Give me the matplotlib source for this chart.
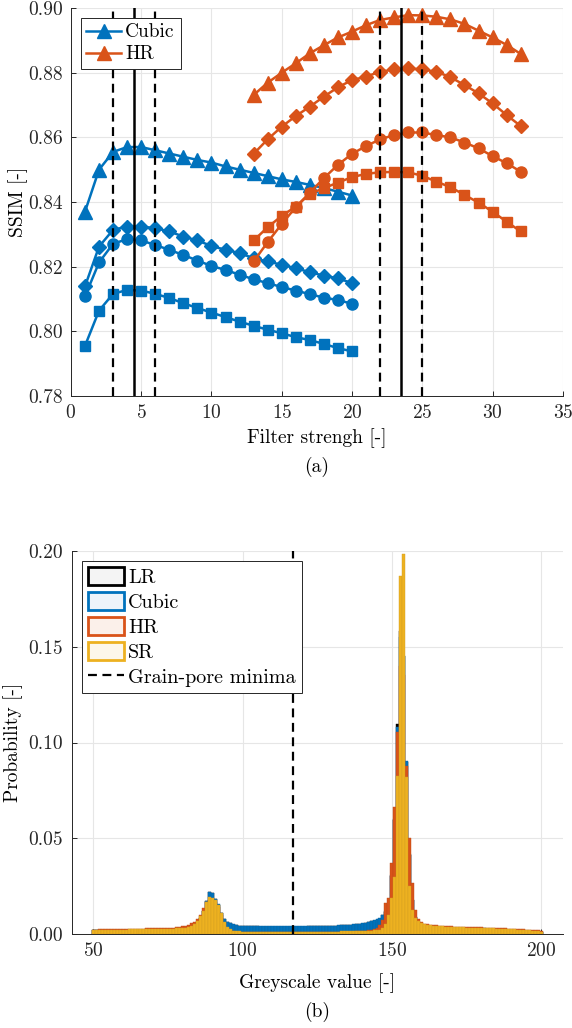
import numpy as np
import matplotlib
matplotlib.use('Agg')
import matplotlib.pyplot as plt
from matplotlib.patches import Patch
from matplotlib.lines import Line2D

plt.rcParams['font.family'] = 'cmr10'
plt.rcParams['mathtext.fontset'] = 'cm'
plt.rcParams['axes.formatter.use_mathtext'] = True
plt.rcParams['font.size'] = 14

BLUE = '#0072BD'
ORANGE = '#D95319'
YELLOW = '#EDB120'

# ---- (a) SSIM vs filter strength ----
cubic_x = np.arange(1, 21)
hr_x = np.arange(13, 33)

cubic_tri = [0.837, 0.850, 0.8555, 0.857, 0.857, 0.856, 0.855, 0.854, 0.853, 0.8522,
             0.851, 0.850, 0.849, 0.848, 0.847, 0.8462, 0.8453, 0.8443, 0.8432, 0.842]
cubic_dia = [0.8139, 0.8262, 0.8314, 0.8324, 0.8324, 0.8319, 0.8309, 0.8293, 0.8281, 0.8264,
             0.8252, 0.8242, 0.8226, 0.8216, 0.8206, 0.8195, 0.8183, 0.8172, 0.8164, 0.8149]
cubic_cir = [0.8108, 0.8213, 0.8271, 0.8285, 0.8281, 0.8267, 0.8252, 0.8236, 0.8219, 0.8202,
             0.8190, 0.8175, 0.8161, 0.8149, 0.8137, 0.8126, 0.8115, 0.8104, 0.8097, 0.8085]
cubic_sq = [0.7955, 0.8064, 0.8116, 0.8128, 0.8126, 0.8116, 0.8103, 0.8087, 0.8072, 0.8058,
            0.8044, 0.8030, 0.8017, 0.8005, 0.7994, 0.7982, 0.7973, 0.7961, 0.7948, 0.7938]

hr_tri = [0.8731, 0.8769, 0.8800, 0.8829, 0.8860, 0.8885, 0.8909, 0.8927, 0.8947, 0.8963,
          0.8971, 0.8978, 0.8977, 0.8973, 0.8965, 0.8951, 0.8930, 0.8909, 0.8886, 0.8858]
hr_dia = [0.8549, 0.8594, 0.8633, 0.8666, 0.8695, 0.8726, 0.8755, 0.8777, 0.8788, 0.8803,
          0.8810, 0.8813, 0.8810, 0.8803, 0.8786, 0.8762, 0.8736, 0.8705, 0.8669, 0.8635]
hr_cir = [0.8216, 0.8276, 0.8332, 0.8384, 0.8429, 0.8474, 0.8515, 0.8549, 0.8573, 0.8594,
          0.8607, 0.8615, 0.8615, 0.8607, 0.8600, 0.8584, 0.8566, 0.8542, 0.8520, 0.8494]
hr_sq = [0.8281, 0.8322, 0.8357, 0.8386, 0.8425, 0.8443, 0.8460, 0.8477, 0.8487, 0.8492,
         0.8493, 0.8492, 0.8481, 0.8463, 0.8446, 0.8422, 0.8398, 0.8370, 0.8339, 0.8309]

cubic_lines = [3.0, 4.5, 6.0]
hr_lines = [22.0, 23.5, 25.0]

# ---- (b) greyscale histograms, bins 50..200 ----
grey = np.arange(50, 201)
p_lr = [
    0.0019, 0.0020, 0.0020, 0.0021, 0.0021, 0.0021, 0.0021, 0.0022, 0.0022, 0.0022,
    0.0022, 0.0022, 0.0023, 0.0023, 0.0023, 0.0023, 0.0023, 0.0023, 0.0024, 0.0024,
    0.0024, 0.0024, 0.0024, 0.0025, 0.0025, 0.0026, 0.0026, 0.0027, 0.0028, 0.0029,
    0.0030, 0.0033, 0.0036, 0.0042, 0.0050, 0.0062, 0.0085, 0.0120, 0.0174, 0.0220,
    0.0212, 0.0184, 0.0154, 0.0111, 0.0077, 0.0063, 0.0056, 0.0049, 0.0045, 0.0043,
    0.0042, 0.0041, 0.0041, 0.0040, 0.0040, 0.0040, 0.0039, 0.0039, 0.0039, 0.0039,
    0.0039, 0.0039, 0.0039, 0.0039, 0.0039, 0.0039, 0.0039, 0.0039, 0.0039, 0.0039,
    0.0039, 0.0039, 0.0040, 0.0040, 0.0040, 0.0041, 0.0041, 0.0041, 0.0042, 0.0042,
    0.0043, 0.0043, 0.0044, 0.0045, 0.0045, 0.0046, 0.0047, 0.0049, 0.0051, 0.0053,
    0.0055, 0.0058, 0.0062, 0.0066, 0.0070, 0.0075, 0.0081, 0.0097, 0.0117, 0.0158,
    0.0305, 0.0595, 0.1095, 0.1580, 0.1450, 0.0900, 0.0415, 0.0178, 0.0089, 0.0059,
    0.0049, 0.0045, 0.0042, 0.0040, 0.0039, 0.0038, 0.0037, 0.0036, 0.0035, 0.0034,
    0.0033, 0.0033, 0.0032, 0.0032, 0.0031, 0.0031, 0.0030, 0.0030, 0.0029, 0.0029,
    0.0028, 0.0028, 0.0027, 0.0027, 0.0026, 0.0025, 0.0025, 0.0024, 0.0023, 0.0022,
    0.0022, 0.0021, 0.0020, 0.0019, 0.0018, 0.0017, 0.0016, 0.0015, 0.0014, 0.0013,
    0.0010]
p_cubic = [
    0.0019, 0.0020, 0.0020, 0.0021, 0.0021, 0.0021, 0.0021, 0.0022, 0.0022, 0.0022,
    0.0022, 0.0022, 0.0023, 0.0023, 0.0023, 0.0023, 0.0023, 0.0023, 0.0024, 0.0024,
    0.0024, 0.0024, 0.0024, 0.0025, 0.0025, 0.0026, 0.0026, 0.0027, 0.0028, 0.0029,
    0.0030, 0.0033, 0.0036, 0.0042, 0.0050, 0.0062, 0.0085, 0.0120, 0.0175, 0.0222,
    0.0213, 0.0185, 0.0155, 0.0112, 0.0078, 0.0064, 0.0057, 0.0050, 0.0046, 0.0044,
    0.0043, 0.0042, 0.0042, 0.0041, 0.0041, 0.0041, 0.0040, 0.0040, 0.0040, 0.0040,
    0.0040, 0.0040, 0.0040, 0.0040, 0.0040, 0.0040, 0.0040, 0.0040, 0.0040, 0.0040,
    0.0040, 0.0040, 0.0041, 0.0041, 0.0041, 0.0042, 0.0042, 0.0042, 0.0043, 0.0043,
    0.0044, 0.0044, 0.0045, 0.0046, 0.0046, 0.0047, 0.0048, 0.0050, 0.0052, 0.0054,
    0.0056, 0.0059, 0.0063, 0.0067, 0.0071, 0.0076, 0.0082, 0.0098, 0.0118, 0.0160,
    0.0310, 0.0600, 0.1080, 0.1550, 0.1450, 0.0904, 0.0420, 0.0180, 0.0090, 0.0060,
    0.0050, 0.0046, 0.0043, 0.0041, 0.0040, 0.0039, 0.0038, 0.0037, 0.0036, 0.0035,
    0.0034, 0.0034, 0.0033, 0.0033, 0.0032, 0.0032, 0.0031, 0.0031, 0.0030, 0.0030,
    0.0029, 0.0029, 0.0028, 0.0028, 0.0027, 0.0026, 0.0026, 0.0025, 0.0024, 0.0023,
    0.0023, 0.0022, 0.0021, 0.0020, 0.0019, 0.0018, 0.0017, 0.0016, 0.0015, 0.0014,
    0.0011]
p_hr = [
    0.0022, 0.0023, 0.0024, 0.0024, 0.0025, 0.0025, 0.0025, 0.0026, 0.0026, 0.0026,
    0.0027, 0.0027, 0.0027, 0.0027, 0.0028, 0.0028, 0.0028, 0.0028, 0.0029, 0.0029,
    0.0029, 0.0030, 0.0030, 0.0031, 0.0031, 0.0032, 0.0033, 0.0034, 0.0036, 0.0038,
    0.0040, 0.0044, 0.0049, 0.0056, 0.0064, 0.0078, 0.0098, 0.0134, 0.0165, 0.0180,
    0.0178, 0.0165, 0.0140, 0.0100, 0.0058, 0.0032, 0.0020, 0.0015, 0.0013, 0.0012,
    0.0011, 0.0011, 0.0011, 0.0011, 0.0011, 0.0011, 0.0011, 0.0011, 0.0011, 0.0011,
    0.0011, 0.0011, 0.0011, 0.0011, 0.0011, 0.0011, 0.0011, 0.0011, 0.0011, 0.0011,
    0.0011, 0.0011, 0.0011, 0.0011, 0.0011, 0.0011, 0.0011, 0.0011, 0.0011, 0.0011,
    0.0012, 0.0012, 0.0012, 0.0012, 0.0012, 0.0013, 0.0013, 0.0013, 0.0014, 0.0015,
    0.0016, 0.0018, 0.0020, 0.0023, 0.0027, 0.0033, 0.0045, 0.0075, 0.0160, 0.0186,
    0.0370, 0.0665, 0.1057, 0.1400, 0.1350, 0.0878, 0.0500, 0.0265, 0.0125, 0.0080,
    0.0062, 0.0055, 0.0050, 0.0048, 0.0046, 0.0045, 0.0044, 0.0043, 0.0042, 0.0041,
    0.0040, 0.0039, 0.0039, 0.0038, 0.0038, 0.0037, 0.0037, 0.0036, 0.0036, 0.0035,
    0.0035, 0.0034, 0.0033, 0.0033, 0.0032, 0.0031, 0.0031, 0.0030, 0.0029, 0.0028,
    0.0028, 0.0027, 0.0026, 0.0025, 0.0024, 0.0023, 0.0022, 0.0021, 0.0020, 0.0019,
    0.0014]
p_sr = [
    0.0020, 0.0021, 0.0021, 0.0022, 0.0022, 0.0022, 0.0022, 0.0023, 0.0023, 0.0023,
    0.0023, 0.0023, 0.0024, 0.0024, 0.0024, 0.0024, 0.0024, 0.0024, 0.0025, 0.0025,
    0.0025, 0.0025, 0.0025, 0.0026, 0.0026, 0.0027, 0.0027, 0.0028, 0.0029, 0.0030,
    0.0031, 0.0034, 0.0037, 0.0044, 0.0054, 0.0068, 0.0092, 0.0120, 0.0168, 0.0195,
    0.0190, 0.0176, 0.0150, 0.0108, 0.0064, 0.0038, 0.0024, 0.0018, 0.0016, 0.0014,
    0.0013, 0.0013, 0.0012, 0.0012, 0.0012, 0.0012, 0.0012, 0.0012, 0.0012, 0.0012,
    0.0012, 0.0012, 0.0012, 0.0012, 0.0012, 0.0012, 0.0012, 0.0012, 0.0012, 0.0012,
    0.0012, 0.0012, 0.0012, 0.0012, 0.0013, 0.0013, 0.0013, 0.0013, 0.0013, 0.0013,
    0.0013, 0.0013, 0.0013, 0.0014, 0.0014, 0.0014, 0.0014, 0.0015, 0.0015, 0.0016,
    0.0016, 0.0017, 0.0017, 0.0018, 0.0019, 0.0020, 0.0022, 0.0030, 0.0055, 0.0100,
    0.0190, 0.0300, 0.0825, 0.1870, 0.1985, 0.0822, 0.0250, 0.0125, 0.0082, 0.0070,
    0.0059, 0.0052, 0.0047, 0.0045, 0.0043, 0.0042, 0.0041, 0.0040, 0.0039, 0.0038,
    0.0037, 0.0036, 0.0036, 0.0035, 0.0035, 0.0034, 0.0034, 0.0033, 0.0033, 0.0032,
    0.0032, 0.0031, 0.0030, 0.0030, 0.0029, 0.0028, 0.0028, 0.0027, 0.0026, 0.0025,
    0.0025, 0.0024, 0.0023, 0.0022, 0.0021, 0.0020, 0.0019, 0.0018, 0.0017, 0.0016,
    0.0012]
grain_pore_min = 117

fig = plt.figure(figsize=(5.72, 10.28), dpi=100)


def style_axes(ax):
    for s in ['top', 'right']:
        ax.spines[s].set_visible(False)
    for s in ['left', 'bottom']:
        ax.spines[s].set_color('#262626')
        ax.spines[s].set_linewidth(0.7)
    ax.tick_params(direction='in', length=3.5, width=0.7, colors='#262626', pad=6)
    ax.grid(True, color='#e6e6e6', linewidth=0.8)
    ax.set_axisbelow(True)


# panel (a)
ax1 = fig.add_axes([0.124, 0.6148, 0.860, 0.3774])
style_axes(ax1)
lw, ms = 1.8, 8
ax1.plot(cubic_x, cubic_tri, '-^', color=BLUE, lw=lw, ms=9.5, label='Cubic')
ax1.plot(cubic_x, cubic_dia, '-D', color=BLUE, lw=lw, ms=7)
ax1.plot(cubic_x, cubic_cir, '-o', color=BLUE, lw=lw, ms=ms)
ax1.plot(cubic_x, cubic_sq, '-s', color=BLUE, lw=lw, ms=7)
ax1.plot(hr_x, hr_tri, '-^', color=ORANGE, lw=lw, ms=9.5, label='HR')
ax1.plot(hr_x, hr_dia, '-D', color=ORANGE, lw=lw, ms=7)
ax1.plot(hr_x, hr_cir, '-o', color=ORANGE, lw=lw, ms=ms)
ax1.plot(hr_x, hr_sq, '-s', color=ORANGE, lw=lw, ms=7)
for lines in (cubic_lines, hr_lines):
    ax1.axvline(lines[0], color='k', ls=(0, (4, 2.5)), lw=1.6)
    ax1.axvline(lines[1], color='k', ls='-', lw=1.8)
    ax1.axvline(lines[2], color='k', ls=(0, (4, 2.5)), lw=1.6)
ax1.set_xlim(0, 35)
ax1.set_ylim(0.78, 0.90)
ax1.set_xticks(np.arange(0, 36, 5))
ax1.set_yticks(np.arange(0.78, 0.901, 0.02))
ax1.yaxis.set_major_formatter(plt.FormatStrFormatter('%.2f'))
ax1.set_xlabel('Filter strengh [-]', labelpad=4)
ax1.set_ylabel('SSIM [-]', labelpad=0)
leg1 = ax1.legend(loc='upper left', handlelength=1.8, borderpad=0.3, labelspacing=0.2,
                  handletextpad=0.2, borderaxespad=0.5, fancybox=False, framealpha=1)
leg1.get_frame().set_edgecolor('#262626')
leg1.get_frame().set_linewidth(0.7)
fig.text(317 / 572, 1 - 467 / 1028, '(a)', ha='center', va='center')

# panel (b)
ax2 = fig.add_axes([0.1253, 0.0914, 0.8597, 0.3726])
style_axes(ax2)
series = [(p_lr, 'k', '#000000'), (p_cubic, BLUE, '#0a64a0'),
          (p_hr, ORANGE, '#c04a16'), (p_sr, YELLOW, '#d39e22')]
for vals, fc, ec in series:
    ax2.bar(grey, vals, width=1.0, color=fc, edgecolor=ec, linewidth=0.3)
ax2.axvline(grain_pore_min, color='k', ls=(0, (4, 2.5)), lw=1.6)
ax2.set_xlim(42.8, 207.4)
ax2.set_ylim(0, 0.20)
ax2.set_xticks([50, 100, 150, 200])
ax2.set_yticks(np.arange(0, 0.201, 0.05))
ax2.yaxis.set_major_formatter(plt.FormatStrFormatter('%.2f'))
ax2.set_xlabel('Greyscale value [-]', labelpad=9)
ax2.set_ylabel('Probability [-]', labelpad=4)
handles = [Patch(facecolor='#f4f4f4', edgecolor='k', lw=2),
           Patch(facecolor='#eef4fa', edgecolor=BLUE, lw=2),
           Patch(facecolor='#fbf0ea', edgecolor=ORANGE, lw=2),
           Patch(facecolor='#fdf7ea', edgecolor=YELLOW, lw=2),
           Line2D([], [], color='k', ls=(0, (4, 2.5)), lw=1.6)]
leg2 = ax2.legend(handles, ['LR', 'Cubic', 'HR', 'SR', 'Grain-pore minima'],
                  loc='upper left', handlelength=1.8, handleheight=1.0, borderpad=0.3,
                  labelspacing=0.25, handletextpad=0.2, borderaxespad=0.5,
                  fancybox=False, framealpha=1, fontsize=14.5)
leg2.get_frame().set_edgecolor('#262626')
leg2.get_frame().set_linewidth(0.7)
fig.text(317 / 572, 1 - 1012 / 1028, '(b)', ha='center', va='center')

fig.savefig('out.png', dpi=100)
